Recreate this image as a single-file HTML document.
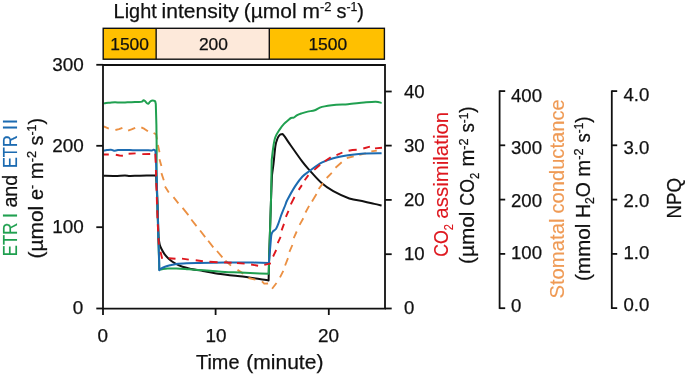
<!DOCTYPE html>
<html><head><meta charset="utf-8"><title>Light intensity response</title>
<style>
html,body{margin:0;padding:0;background:#ffffff;}
body{width:685px;height:375px;overflow:hidden;}
svg{display:block;font-family:"Liberation Sans",sans-serif;will-change:transform;}
</style></head><body>
<svg width="685" height="375" viewBox="0 0 685 375">
<rect x="0" y="0" width="685" height="375" fill="#ffffff"/>
<g>
<rect x="103.2" y="28.30" width="52.95" height="30.90" fill="#ffc000"/>
<rect x="156.15" y="28.30" width="113.15" height="30.90" fill="#fde9da"/>
<rect x="269.3" y="28.30" width="115.10" height="30.90" fill="#ffc000"/>
<rect x="103.2" y="28.30" width="281.20" height="30.90" fill="none" stroke="#111111" stroke-width="1.4"/>
<line x1="156.15" y1="28.30" x2="156.15" y2="59.20" stroke="#111111" stroke-width="1.40"/>
<line x1="269.30" y1="28.30" x2="269.30" y2="59.20" stroke="#111111" stroke-width="1.40"/>
</g>
<g fill="none" stroke-linejoin="round" stroke-linecap="butt">
<path d="M103.60 175.80 C105.50 175.82 111.43 175.95 115.00 175.90 C118.57 175.85 122.50 175.48 125.00 175.50 C127.50 175.52 127.50 175.97 130.00 176.00 C132.50 176.03 135.85 175.78 140.00 175.70 C144.15 175.62 152.42 175.53 154.90 175.50 L156.15 176.00 L157.50 205.00 L158.60 238.00 C158.78 239.07 159.23 242.60 159.70 244.40 C160.17 246.20 160.60 247.18 161.40 248.80 C162.20 250.42 163.25 252.42 164.50 254.10 C165.75 255.78 167.07 257.32 168.90 258.90 C170.73 260.48 173.23 262.28 175.50 263.60 C177.77 264.92 179.87 265.92 182.50 266.80 C185.13 267.68 187.92 268.20 191.30 268.90 C194.68 269.60 197.92 270.13 202.80 271.00 C207.68 271.87 214.40 273.22 220.60 274.10 C226.80 274.98 232.00 275.25 240.00 276.30 C248.00 277.35 263.83 279.72 268.60 280.40 L268.80 272.00 L269.20 255.00 L270.30 222.00 L271.00 200.00 L272.00 175.00 C272.25 173.17 272.93 168.83 273.50 164.00 C274.07 159.17 274.73 150.25 275.40 146.00 C276.07 141.75 276.77 140.35 277.50 138.50 C278.23 136.65 279.12 135.60 279.80 134.90 C280.48 134.20 280.97 134.25 281.60 134.30 C282.23 134.35 282.07 133.33 283.60 135.20 C285.13 137.07 287.65 141.05 290.80 145.50 C293.95 149.95 299.32 157.70 302.50 161.90 C305.68 166.10 306.72 167.17 309.90 170.70 C313.08 174.23 317.70 179.68 321.60 183.10 C325.50 186.52 328.68 188.63 333.30 191.20 C337.92 193.77 344.18 196.80 349.30 198.50 C354.42 200.20 359.83 200.50 364.00 201.40 C368.17 202.30 371.37 203.23 374.30 203.90 C377.23 204.57 380.38 205.15 381.60 205.40" stroke="#111111" stroke-width="2.00"/>
<path d="M103.60 126.40 L108.80 128.60 M115.40 130.00 L119.00 129.20 L122.40 127.80 M128.10 130.70 L131.50 129.40 L135.20 127.80 M141.30 127.30 L144.50 128.90 L147.90 131.30 M153.60 133.00 L156.20 134.40 L157.00 139.50 M157.90 145.00 L159.50 152.20 M159.50 159.30 L161.40 166.00 M161.40 173.10 L163.80 180.30 M165.00 186.60 L168.80 192.60 M173.50 197.20 L178.40 203.30 M182.60 207.80 L188.40 215.10 M191.30 219.50 L196.50 226.10 M200.10 230.50 L205.20 237.10 M208.20 240.80 L213.30 247.40 M217.00 251.00 L222.40 257.40 M225.40 260.60 L231.00 265.60 M237.50 269.90 L243.30 273.60 M248.40 278.00 L255.40 279.70 M262.00 281.30 L264.20 283.70 L268.10 283.50 M272.10 288.70 L276.50 283.00 M280.00 277.30 L283.30 270.90 M285.10 265.50 L288.00 258.20 M289.40 251.80 L292.40 245.00 M293.70 238.10 L296.70 231.50 M299.60 224.90 L303.30 218.30 M305.50 212.50 L309.10 205.90 M312.00 201.50 L316.50 194.10 M318.70 189.00 L323.00 183.10 M326.70 178.00 L331.80 172.90 M335.50 167.70 L341.70 162.30 M346.80 158.00 L353.70 156.30 M359.20 154.90 L366.00 153.40 M371.30 151.40 L376.80 150.60" stroke="#eb9043" stroke-width="1.85"/>
<path d="M103.60 103.50 C104.00 103.42 104.93 103.13 106.00 103.00 C107.07 102.87 108.50 102.82 110.00 102.70 C111.50 102.58 113.33 102.32 115.00 102.30 C116.67 102.28 118.33 102.58 120.00 102.60 C121.67 102.62 123.33 102.47 125.00 102.40 C126.67 102.33 128.33 102.27 130.00 102.20 C131.67 102.13 133.50 102.02 135.00 102.00 C136.50 101.98 137.83 102.17 139.00 102.10 C140.17 102.03 141.25 101.90 142.00 101.60 C142.75 101.30 143.00 100.40 143.50 100.30 C144.00 100.20 144.42 100.52 145.00 101.00 C145.58 101.48 146.42 102.77 147.00 103.20 C147.58 103.63 148.00 103.85 148.50 103.60 C149.00 103.35 149.50 102.18 150.00 101.70 C150.50 101.22 150.83 100.87 151.50 100.70 C152.17 100.53 153.38 100.60 154.00 100.70 C154.62 100.80 155.00 101.20 155.20 101.30 L155.80 104.00 L156.40 125.00 L156.70 150.00 L156.50 170.00 L157.40 205.00 L158.20 235.00 L159.10 262.00 L159.30 269.60 C159.75 269.53 160.62 269.37 162.00 269.20 C163.38 269.03 165.20 268.72 167.60 268.60 C170.00 268.48 173.47 268.45 176.40 268.50 C179.33 268.55 182.27 268.70 185.20 268.90 C188.13 269.10 189.87 269.38 194.00 269.70 C198.13 270.02 204.83 270.42 210.00 270.80 C215.17 271.18 220.00 271.72 225.00 272.00 C230.00 272.28 235.00 272.30 240.00 272.50 C245.00 272.70 250.22 273.00 255.00 273.20 C259.78 273.40 266.42 273.62 268.70 273.70 L269.20 255.00 L270.30 222.00 L271.00 200.00 L271.70 160.00 C271.97 157.83 272.72 150.75 273.30 147.00 C273.88 143.25 274.15 140.40 275.20 137.50 C276.25 134.60 278.13 131.87 279.60 129.60 C281.07 127.33 282.53 125.50 284.00 123.90 C285.47 122.30 287.23 120.98 288.40 120.00 C289.57 119.02 290.12 118.40 291.00 118.00 C291.88 117.60 292.67 118.08 293.70 117.60 C294.73 117.12 295.88 115.80 297.20 115.10 C298.52 114.40 299.85 113.98 301.60 113.40 C303.35 112.82 305.50 112.12 307.70 111.60 C309.90 111.08 312.42 111.08 314.80 110.30 C317.18 109.52 318.43 107.83 322.00 106.90 C325.57 105.97 331.87 105.15 336.20 104.70 C340.53 104.25 343.37 104.57 348.00 104.20 C352.63 103.83 359.38 102.92 364.00 102.50 C368.62 102.08 372.77 101.63 375.70 101.70 C378.63 101.77 380.62 102.70 381.60 102.90" stroke="#20a050" stroke-width="2.00"/>
<path d="M103.60 150.70 C104.17 150.60 105.77 150.27 107.00 150.10 C108.23 149.93 109.83 149.60 111.00 149.70 C112.17 149.80 112.83 150.63 114.00 150.70 C115.17 150.77 116.17 150.23 118.00 150.10 C119.83 149.97 122.17 149.87 125.00 149.90 C127.83 149.93 131.67 150.23 135.00 150.30 C138.33 150.37 142.17 150.28 145.00 150.30 C147.83 150.32 150.58 150.48 152.00 150.40 C153.42 150.32 153.03 149.87 153.50 149.80 C153.97 149.73 154.58 149.97 154.80 150.00 L155.50 151.50 L156.40 170.00 L157.50 205.00 L158.30 235.00 L159.20 262.00 L159.30 270.20 C159.58 269.93 160.05 269.17 161.00 268.60 C161.95 268.03 163.50 267.35 165.00 266.80 C166.50 266.25 168.10 265.78 170.00 265.30 C171.90 264.82 173.57 264.25 176.40 263.90 C179.23 263.55 183.28 263.37 187.00 263.20 C190.72 263.03 192.37 263.02 198.70 262.90 C205.03 262.78 218.12 262.58 225.00 262.50 C231.88 262.42 232.68 262.33 240.00 262.40 C247.32 262.47 264.08 262.82 268.90 262.90 L270.00 250.00 L271.20 236.00 C271.28 235.60 271.43 234.33 271.70 233.60 C271.97 232.87 272.07 232.42 272.80 231.60 C273.53 230.78 275.12 230.20 276.10 228.70 C277.08 227.20 277.82 224.93 278.70 222.60 C279.58 220.27 280.30 217.63 281.40 214.70 C282.50 211.77 284.32 207.45 285.30 205.00 C286.28 202.55 285.65 203.15 287.30 200.00 C288.95 196.85 292.67 190.02 295.20 186.10 C297.73 182.18 300.05 179.07 302.50 176.50 C304.95 173.93 306.72 173.02 309.90 170.70 C313.08 168.38 317.70 164.68 321.60 162.60 C325.50 160.52 328.90 159.42 333.30 158.20 C337.70 156.98 342.88 156.08 348.00 155.30 C353.12 154.52 358.40 153.85 364.00 153.50 C369.60 153.15 378.67 153.25 381.60 153.20" stroke="#1c6bb1" stroke-width="2.00"/>
<path d="M103.60 154.50 L108.80 154.50 M115.80 154.80 L119.50 155.50 L122.90 155.70 M128.60 153.70 L135.60 153.40 M142.30 154.10 L150.20 154.00 M155.30 153.80 L155.70 162.80 M155.90 170.00 L156.10 176.40 M156.30 183.00 L156.60 190.80 M156.80 197.00 L157.00 204.40 M157.20 210.30 L157.50 218.30 M157.80 224.20 L158.10 231.50 M158.40 238.10 L158.90 244.60 M160.50 251.80 L162.20 258.80 M168.70 258.20 L175.50 258.80 M182.00 258.60 L188.80 259.60 M195.70 260.30 L202.90 261.30 M209.40 261.70 L217.60 262.30 M224.00 262.40 L231.60 262.80 M237.00 263.00 L244.60 263.60 M251.10 264.50 L258.10 265.70 M264.30 264.90 L270.90 263.30 M273.10 256.50 L276.20 250.00 M277.70 243.20 L280.60 236.80 M281.60 230.30 L284.00 223.80 M285.90 216.90 L288.50 210.80 M290.80 204.40 L294.50 197.00 M298.70 189.90 L301.90 185.10 M304.70 180.20 L308.40 175.10 M314.30 169.90 L320.10 164.80 M324.80 161.20 L330.70 157.30 M336.50 155.20 L342.40 152.50 M348.60 150.70 L352.50 150.00 L356.70 149.80 M363.30 148.50 L369.90 146.70 M375.00 148.40 L382.00 147.70" stroke="#de171e" stroke-width="1.9"/>
</g>
<g>
<path d="M103.00 65.00 V308.60 H385.00 V65.00 H103.00 Z" fill="none" stroke="#111111" stroke-width="1.80" stroke-linejoin="miter"/>
<line x1="96.30" y1="64.80" x2="103.00" y2="64.80" stroke="#111111" stroke-width="1.80"/>
<line x1="96.30" y1="145.80" x2="103.00" y2="145.80" stroke="#111111" stroke-width="1.80"/>
<line x1="96.30" y1="227.20" x2="103.00" y2="227.20" stroke="#111111" stroke-width="1.80"/>
<line x1="96.30" y1="308.50" x2="103.00" y2="308.50" stroke="#111111" stroke-width="1.80"/>
<line x1="103.00" y1="308.60" x2="103.00" y2="315.00" stroke="#111111" stroke-width="1.80"/>
<line x1="215.60" y1="308.60" x2="215.60" y2="315.00" stroke="#111111" stroke-width="1.80"/>
<line x1="328.80" y1="308.60" x2="328.80" y2="315.00" stroke="#111111" stroke-width="1.80"/>
<line x1="385.00" y1="91.50" x2="391.70" y2="91.50" stroke="#111111" stroke-width="1.80"/>
<line x1="385.00" y1="145.60" x2="391.70" y2="145.60" stroke="#111111" stroke-width="1.80"/>
<line x1="385.00" y1="199.90" x2="391.70" y2="199.90" stroke="#111111" stroke-width="1.80"/>
<line x1="385.00" y1="254.20" x2="391.70" y2="254.20" stroke="#111111" stroke-width="1.80"/>
<line x1="385.00" y1="308.50" x2="391.70" y2="308.50" stroke="#111111" stroke-width="1.80"/>
<line x1="499.60" y1="90.40" x2="499.60" y2="308.90" stroke="#111111" stroke-width="1.80"/>
<line x1="499.60" y1="91.10" x2="505.20" y2="91.10" stroke="#111111" stroke-width="1.80"/>
<line x1="499.60" y1="145.30" x2="505.20" y2="145.30" stroke="#111111" stroke-width="1.80"/>
<line x1="499.60" y1="199.60" x2="505.20" y2="199.60" stroke="#111111" stroke-width="1.80"/>
<line x1="499.60" y1="253.90" x2="505.20" y2="253.90" stroke="#111111" stroke-width="1.80"/>
<line x1="499.60" y1="308.20" x2="505.20" y2="308.20" stroke="#111111" stroke-width="1.80"/>
<line x1="611.80" y1="90.40" x2="611.80" y2="308.90" stroke="#111111" stroke-width="1.80"/>
<line x1="611.80" y1="91.10" x2="617.20" y2="91.10" stroke="#111111" stroke-width="1.80"/>
<line x1="611.80" y1="145.30" x2="617.20" y2="145.30" stroke="#111111" stroke-width="1.80"/>
<line x1="611.80" y1="199.60" x2="617.20" y2="199.60" stroke="#111111" stroke-width="1.80"/>
<line x1="611.80" y1="253.90" x2="617.20" y2="253.90" stroke="#111111" stroke-width="1.80"/>
<line x1="611.80" y1="308.10" x2="617.20" y2="308.10" stroke="#111111" stroke-width="1.80"/>
</g>
<g>
<text x="83.90" y="70.50" font-size="18.90px" text-anchor="end" fill="#111111" stroke="#111111" stroke-width="0.25">300</text>
<text x="83.90" y="151.80" font-size="18.90px" text-anchor="end" fill="#111111" stroke="#111111" stroke-width="0.25">200</text>
<text x="83.90" y="233.20" font-size="18.90px" text-anchor="end" fill="#111111" stroke="#111111" stroke-width="0.25">100</text>
<text x="83.20" y="314.20" font-size="18.90px" text-anchor="end" fill="#111111" stroke="#111111" stroke-width="0.25">0</text>
<text x="102.70" y="341.90" font-size="18.90px" text-anchor="middle" fill="#111111" stroke="#111111" stroke-width="0.25">0</text>
<text x="216.10" y="341.90" font-size="18.90px" text-anchor="middle" fill="#111111" stroke="#111111" stroke-width="0.25">10</text>
<text x="328.60" y="341.90" font-size="18.90px" text-anchor="middle" fill="#111111" stroke="#111111" stroke-width="0.25">20</text>
<text x="404.00" y="98.00" font-size="18.60px" text-anchor="start" fill="#111111" stroke="#111111" stroke-width="0.25">40</text>
<text x="404.00" y="152.20" font-size="18.60px" text-anchor="start" fill="#111111" stroke="#111111" stroke-width="0.25">30</text>
<text x="404.00" y="206.40" font-size="18.60px" text-anchor="start" fill="#111111" stroke="#111111" stroke-width="0.25">20</text>
<text x="404.00" y="260.40" font-size="18.60px" text-anchor="start" fill="#111111" stroke="#111111" stroke-width="0.25">10</text>
<text x="404.00" y="314.40" font-size="18.60px" text-anchor="start" fill="#111111" stroke="#111111" stroke-width="0.25">0</text>
<text x="511.00" y="101.80" font-size="18.60px" text-anchor="start" fill="#111111" stroke="#111111" stroke-width="0.25">400</text>
<text x="511.00" y="154.00" font-size="18.60px" text-anchor="start" fill="#111111" stroke="#111111" stroke-width="0.25">300</text>
<text x="511.00" y="206.50" font-size="18.60px" text-anchor="start" fill="#111111" stroke="#111111" stroke-width="0.25">200</text>
<text x="511.00" y="259.10" font-size="18.60px" text-anchor="start" fill="#111111" stroke="#111111" stroke-width="0.25">100</text>
<text x="511.00" y="311.70" font-size="18.60px" text-anchor="start" fill="#111111" stroke="#111111" stroke-width="0.25">0</text>
<text x="623.40" y="101.30" font-size="18.60px" text-anchor="start" fill="#111111" stroke="#111111" stroke-width="0.25">4.0</text>
<text x="623.40" y="153.70" font-size="18.60px" text-anchor="start" fill="#111111" stroke="#111111" stroke-width="0.25">3.0</text>
<text x="623.40" y="206.60" font-size="18.60px" text-anchor="start" fill="#111111" stroke="#111111" stroke-width="0.25">2.0</text>
<text x="623.40" y="258.70" font-size="18.60px" text-anchor="start" fill="#111111" stroke="#111111" stroke-width="0.25">1.0</text>
<text x="623.40" y="311.00" font-size="18.60px" text-anchor="start" fill="#111111" stroke="#111111" stroke-width="0.25">0.0</text>
<text x="129.60" y="49.63" font-size="17.40px" text-anchor="middle" fill="#111111" stroke="#111111" stroke-width="0.25">1500</text>
<text x="213.40" y="49.63" font-size="17.40px" text-anchor="middle" fill="#111111" stroke="#111111" stroke-width="0.25">200</text>
<text x="327.80" y="49.63" font-size="17.40px" text-anchor="middle" fill="#111111" stroke="#111111" stroke-width="0.25">1500</text>
<text transform="translate(16.60 256.21) rotate(-90)" font-size="20.00px" fill="#20a050" stroke="#20a050" stroke-width="0.12" textLength="33.43" lengthAdjust="spacingAndGlyphs">ETR</text>
<text transform="translate(16.60 218.15) rotate(-90)" font-size="20.00px" fill="#20a050" stroke="#20a050" stroke-width="0.12" textLength="5.62" lengthAdjust="spacingAndGlyphs">I</text>
<text transform="translate(16.60 207.59) rotate(-90)" font-size="20.00px" fill="#111111" stroke="#111111" stroke-width="0.25" textLength="32.83" lengthAdjust="spacingAndGlyphs">and</text>
<text transform="translate(16.60 168.11) rotate(-90)" font-size="20.00px" fill="#1c6bb1" stroke="#1c6bb1" stroke-width="0.12" textLength="32.88" lengthAdjust="spacingAndGlyphs">ETR</text>
<text transform="translate(16.60 130.45) rotate(-90)" font-size="20.00px" fill="#1c6bb1" stroke="#1c6bb1" stroke-width="0.12" textLength="11.90" lengthAdjust="spacingAndGlyphs">II</text>
<text transform="translate(43.00 258.47) rotate(-90)" font-size="20.00px" fill="#111111" stroke="#111111" stroke-width="0.25" textLength="52.72" lengthAdjust="spacingAndGlyphs">(µmol</text>
<text transform="translate(43.00 199.95) rotate(-90)" font-size="20.00px" fill="#111111" stroke="#111111" stroke-width="0.25" textLength="15.15" lengthAdjust="spacingAndGlyphs">e<tspan dy="-6.8" font-size="12.5px">-</tspan><tspan dy="6.8" font-size="12.5px">&#8203;</tspan></text>
<text transform="translate(43.00 179.24) rotate(-90)" font-size="20.00px" fill="#111111" stroke="#111111" stroke-width="0.25" textLength="28.33" lengthAdjust="spacingAndGlyphs">m<tspan dy="-6.8" font-size="12.5px">-2</tspan><tspan dy="6.8" font-size="12.5px">&#8203;</tspan></text>
<text transform="translate(43.00 145.50) rotate(-90)" font-size="20.00px" fill="#111111" stroke="#111111" stroke-width="0.25" textLength="27.56" lengthAdjust="spacingAndGlyphs">s<tspan dy="-6.8" font-size="12.5px">-1</tspan><tspan dy="6.8" font-size="12.5px">&#8203;</tspan>)</text>
<text transform="translate(448.20 256.77) rotate(-90)" font-size="20.00px" fill="#de171e" stroke="#de171e" stroke-width="0.12" textLength="32.67" lengthAdjust="spacingAndGlyphs">CO<tspan dy="4.6" font-size="12.5px">2</tspan><tspan dy="-4.6" font-size="12.5px">&#8203;</tspan></text>
<text transform="translate(448.20 218.68) rotate(-90)" font-size="20.00px" fill="#de171e" stroke="#de171e" stroke-width="0.12" textLength="106.92" lengthAdjust="spacingAndGlyphs">assimilation</text>
<text transform="translate(474.30 263.91) rotate(-90)" font-size="20.00px" fill="#111111" stroke="#111111" stroke-width="0.25" textLength="52.31" lengthAdjust="spacingAndGlyphs">(µmol</text>
<text transform="translate(474.30 205.72) rotate(-90)" font-size="20.00px" fill="#111111" stroke="#111111" stroke-width="0.25" textLength="32.92" lengthAdjust="spacingAndGlyphs">CO<tspan dy="4.6" font-size="12.5px">2</tspan><tspan dy="-4.6" font-size="12.5px">&#8203;</tspan></text>
<text transform="translate(474.30 166.61) rotate(-90)" font-size="20.00px" fill="#111111" stroke="#111111" stroke-width="0.25" textLength="28.25" lengthAdjust="spacingAndGlyphs">m<tspan dy="-6.8" font-size="12.5px">-2</tspan><tspan dy="6.8" font-size="12.5px">&#8203;</tspan></text>
<text transform="translate(474.30 132.50) rotate(-90)" font-size="20.00px" fill="#111111" stroke="#111111" stroke-width="0.25" textLength="25.89" lengthAdjust="spacingAndGlyphs">s<tspan dy="-6.8" font-size="12.5px">-1</tspan><tspan dy="6.8" font-size="12.5px">&#8203;</tspan>)</text>
<text transform="translate(563.60 298.59) rotate(-90)" font-size="20.00px" fill="#ef9a55" stroke="#ef9a55" stroke-width="0.12" textLength="80.06" lengthAdjust="spacingAndGlyphs">Stomatal</text>
<text transform="translate(563.60 213.48) rotate(-90)" font-size="20.00px" fill="#ef9a55" stroke="#ef9a55" stroke-width="0.12" textLength="114.16" lengthAdjust="spacingAndGlyphs">conductance</text>
<text transform="translate(589.60 281.09) rotate(-90)" font-size="20.00px" fill="#111111" stroke="#111111" stroke-width="0.25" textLength="57.56" lengthAdjust="spacingAndGlyphs">(mmol</text>
<text transform="translate(589.60 218.05) rotate(-90)" font-size="20.00px" fill="#111111" stroke="#111111" stroke-width="0.25" textLength="35.87" lengthAdjust="spacingAndGlyphs">H<tspan dy="4.6" font-size="12.5px">2</tspan><tspan dy="-4.6" font-size="12.5px">&#8203;</tspan>O</text>
<text transform="translate(589.60 176.66) rotate(-90)" font-size="20.00px" fill="#111111" stroke="#111111" stroke-width="0.25" textLength="28.16" lengthAdjust="spacingAndGlyphs">m<tspan dy="-6.8" font-size="12.5px">-2</tspan><tspan dy="6.8" font-size="12.5px">&#8203;</tspan></text>
<text transform="translate(589.60 142.47) rotate(-90)" font-size="20.00px" fill="#111111" stroke="#111111" stroke-width="0.25" textLength="25.82" lengthAdjust="spacingAndGlyphs">s<tspan dy="-6.8" font-size="12.5px">-1</tspan><tspan dy="6.8" font-size="12.5px">&#8203;</tspan>)</text>
<text transform="translate(680.70 218.48) rotate(-90)" font-size="20.00px" fill="#111111" stroke="#111111" stroke-width="0.25" textLength="40.54" lengthAdjust="spacingAndGlyphs">NPQ</text>
<text x="113.62" y="18.00" font-size="20.30px" text-anchor="start" fill="#111111" stroke="#111111" stroke-width="0.25" textLength="43.1" lengthAdjust="spacingAndGlyphs">Light</text>
<text x="161.60" y="18.00" font-size="20.30px" text-anchor="start" fill="#111111" stroke="#111111" stroke-width="0.25" textLength="77.2" lengthAdjust="spacingAndGlyphs">intensity</text>
<text x="243.78" y="18.00" font-size="20.30px" text-anchor="start" fill="#111111" stroke="#111111" stroke-width="0.25" textLength="52.8" lengthAdjust="spacingAndGlyphs">(µmol</text>
<text x="302.49" y="18.00" font-size="20.30px" text-anchor="start" fill="#111111" stroke="#111111" stroke-width="0.25" textLength="29.0" lengthAdjust="spacingAndGlyphs">m<tspan dy="-6.8" font-size="12.5px">-2</tspan><tspan dy="6.8" font-size="12.5px">&#8203;</tspan></text>
<text x="336.45" y="18.00" font-size="20.30px" text-anchor="start" fill="#111111" stroke="#111111" stroke-width="0.25" textLength="27.5" lengthAdjust="spacingAndGlyphs">s<tspan dy="-6.8" font-size="12.5px">-1</tspan><tspan dy="6.8" font-size="12.5px">&#8203;</tspan>)</text>
<text x="196.07" y="368.50" font-size="20.30px" text-anchor="start" fill="#111111" stroke="#111111" stroke-width="0.25" textLength="43.4" lengthAdjust="spacingAndGlyphs">Time</text>
<text x="246.22" y="368.50" font-size="20.30px" text-anchor="start" fill="#111111" stroke="#111111" stroke-width="0.25" textLength="77.2" lengthAdjust="spacingAndGlyphs">(minute)</text>
</g>
</svg>
</body></html>
